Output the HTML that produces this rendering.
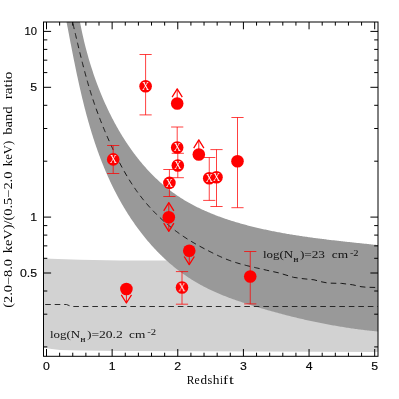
<!DOCTYPE html>
<html><head><meta charset="utf-8"><title>Band ratio vs redshift</title>
<style>
html,body{margin:0;padding:0;background:#fff;}
svg{display:block;will-change:transform;}
text{fill:#111;opacity:0.99;}
.s{font-family:"Liberation Sans",sans-serif;font-size:10.6px;fill:#000;stroke:#000;stroke-width:0.15px;}
.r{font-family:"Liberation Serif",serif;font-size:11.6px;fill:#000;}
.a{font-family:"Liberation Serif",serif;font-size:11.4px;}
.b{font-family:"Liberation Serif",serif;font-size:7.1px;font-weight:bold;}
.c{font-family:"Liberation Serif",serif;font-size:7.8px;}
.x{font-family:"Liberation Serif",serif;font-size:11.5px;fill:#fff;}
</style></head><body>
<svg width="399" height="399" viewBox="0 0 399 399">
<rect width="399" height="399" fill="#fff"/>
<clipPath id="c"><rect x="43.5" y="22.0" width="334.5" height="334.3"/></clipPath>
<g clip-path="url(#c)">
<path d="M43.50,258.60 L80.00,259.80 L120.00,260.60 L170.00,260.60 L378.00,260.60 L378.00,352.00 L200.00,351.20 L120.00,351.00 L80.00,350.60 L60.00,350.00 L50.00,348.80 L43.50,347.40Z" fill="#d2d2d2"/>
<path d="M78.67,14.63 L78.84,15.62 L79.01,16.60 L79.18,17.59 L79.35,18.58 L79.53,19.57 L79.71,20.56 L79.90,21.56 L80.08,22.55 L80.27,23.55 L80.47,24.55 L80.66,25.54 L80.86,26.54 L81.06,27.54 L81.27,28.55 L81.47,29.55 L81.68,30.55 L81.90,31.56 L82.11,32.56 L82.33,33.57 L82.55,34.57 L82.78,35.58 L83.01,36.59 L83.24,37.60 L83.47,38.61 L83.71,39.62 L83.95,40.63 L84.19,41.64 L84.44,42.66 L84.69,43.67 L84.94,44.68 L85.19,45.70 L85.45,46.71 L85.71,47.73 L85.98,48.74 L86.25,49.76 L86.52,50.77 L86.79,51.79 L87.07,52.81 L87.35,53.82 L87.63,54.84 L87.91,55.86 L88.20,56.87 L88.50,57.89 L88.79,58.91 L89.09,59.92 L89.39,60.94 L89.70,61.96 L90.00,62.97 L90.31,63.99 L90.63,65.01 L90.95,66.02 L91.27,67.04 L91.59,68.05 L91.92,69.07 L92.25,70.09 L92.58,71.10 L92.92,72.11 L93.26,73.13 L93.60,74.14 L93.94,75.15 L94.29,76.17 L94.65,77.18 L95.00,78.19 L95.36,79.20 L95.72,80.21 L96.09,81.22 L96.46,82.22 L96.83,83.23 L97.20,84.24 L97.58,85.24 L97.97,86.25 L98.35,87.25 L98.74,88.25 L99.13,89.26 L99.53,90.26 L99.92,91.26 L100.33,92.26 L100.73,93.25 L101.14,94.25 L101.55,95.24 L101.97,96.24 L102.38,97.23 L102.81,98.22 L103.23,99.21 L103.66,100.20 L104.09,101.19 L104.53,102.17 L104.97,103.16 L105.41,104.14 L105.85,105.12 L106.30,106.10 L106.75,107.08 L107.21,108.05 L107.67,109.03 L108.13,110.00 L108.60,110.97 L109.07,111.94 L109.54,112.91 L110.02,113.87 L110.50,114.84 L110.98,115.80 L111.47,116.76 L111.96,117.72 L112.45,118.67 L112.95,119.62 L113.45,120.58 L113.95,121.53 L114.46,122.47 L114.97,123.42 L115.49,124.36 L116.00,125.30 L116.53,126.24 L117.05,127.17 L117.58,128.11 L118.11,129.04 L118.65,129.97 L119.19,130.89 L119.73,131.82 L120.28,132.74 L120.83,133.66 L121.38,134.57 L121.94,135.49 L122.50,136.40 L123.07,137.31 L123.63,138.21 L124.21,139.11 L124.78,140.01 L125.36,140.91 L125.94,141.80 L126.53,142.69 L127.12,143.58 L127.71,144.47 L128.31,145.35 L128.91,146.23 L129.52,147.10 L130.13,147.98 L130.74,148.84 L131.35,149.71 L131.97,150.57 L132.60,151.43 L133.22,152.29 L133.85,153.14 L134.49,153.99 L135.13,154.84 L135.77,155.68 L136.41,156.52 L137.06,157.36 L137.72,158.19 L138.37,159.01 L139.04,159.84 L139.70,160.66 L140.37,161.48 L141.04,162.29 L141.72,163.10 L142.40,163.90 L143.08,164.70 L143.77,165.50 L144.46,166.29 L145.15,167.08 L145.85,167.87 L146.55,168.65 L147.26,169.43 L147.97,170.20 L148.68,170.97 L149.40,171.73 L150.12,172.49 L150.85,173.24 L151.58,173.99 L152.31,174.74 L153.05,175.48 L153.79,176.22 L154.54,176.95 L155.29,177.68 L156.04,178.40 L156.80,179.12 L157.56,179.83 L158.32,180.54 L159.09,181.24 L159.86,181.94 L160.64,182.63 L161.42,183.32 L162.20,184.00 L162.99,184.68 L163.79,185.36 L164.58,186.02 L165.38,186.69 L166.19,187.34 L167.00,188.00 L167.81,188.64 L168.62,189.28 L169.44,189.92 L170.27,190.55 L171.10,191.17 L171.93,191.79 L172.77,192.41 L173.61,193.02 L174.45,193.62 L175.30,194.22 L176.15,194.81 L177.01,195.39 L177.87,195.97 L178.74,196.55 L179.60,197.12 L180.48,197.68 L181.35,198.24 L182.23,198.79 L183.12,199.34 L184.00,199.88 L184.89,200.41 L185.79,200.95 L186.69,201.47 L187.59,201.99 L188.49,202.51 L189.40,203.02 L190.31,203.52 L191.23,204.02 L192.15,204.52 L193.07,205.01 L193.99,205.49 L194.92,205.97 L195.85,206.45 L196.78,206.92 L197.72,207.39 L198.66,207.85 L199.60,208.30 L200.55,208.76 L201.50,209.20 L202.45,209.65 L203.41,210.08 L204.36,210.52 L205.32,210.95 L206.29,211.37 L207.25,211.79 L208.22,212.21 L209.19,212.62 L210.16,213.02 L211.14,213.43 L212.12,213.83 L213.10,214.22 L214.08,214.61 L215.06,215.00 L216.05,215.38 L217.04,215.76 L218.03,216.13 L219.03,216.50 L220.02,216.86 L221.02,217.23 L222.02,217.58 L223.02,217.94 L224.03,218.29 L225.03,218.64 L226.04,218.98 L227.05,219.32 L228.06,219.65 L229.08,219.99 L230.09,220.31 L231.11,220.64 L232.13,220.96 L233.15,221.28 L234.17,221.59 L235.19,221.90 L236.21,222.21 L237.24,222.52 L238.27,222.82 L239.30,223.11 L240.33,223.41 L241.36,223.70 L242.39,223.99 L243.42,224.27 L244.46,224.56 L245.49,224.84 L246.53,225.11 L247.57,225.39 L248.61,225.66 L249.65,225.92 L250.69,226.19 L251.73,226.45 L252.77,226.71 L253.81,226.96 L254.86,227.22 L255.90,227.47 L256.95,227.72 L257.99,227.96 L259.04,228.21 L260.09,228.45 L261.13,228.68 L262.18,228.92 L263.23,229.15 L264.28,229.38 L265.33,229.61 L266.38,229.84 L267.43,230.06 L268.49,230.28 L269.54,230.50 L270.59,230.72 L271.64,230.93 L272.70,231.14 L273.75,231.35 L274.81,231.56 L275.86,231.76 L276.92,231.97 L277.97,232.17 L279.03,232.36 L280.08,232.56 L281.14,232.76 L282.20,232.95 L283.25,233.14 L284.31,233.33 L285.37,233.51 L286.43,233.70 L287.49,233.88 L288.54,234.06 L289.60,234.24 L290.66,234.42 L291.72,234.59 L292.78,234.76 L293.84,234.94 L294.90,235.11 L295.96,235.27 L297.02,235.44 L298.08,235.60 L299.13,235.77 L300.19,235.93 L301.25,236.09 L302.31,236.25 L303.37,236.40 L304.43,236.56 L305.49,236.71 L306.55,236.86 L307.61,237.01 L308.67,237.16 L309.73,237.31 L310.79,237.46 L311.84,237.60 L312.90,237.75 L313.96,237.89 L315.02,238.03 L316.08,238.17 L317.14,238.31 L318.19,238.44 L319.25,238.58 L320.31,238.71 L321.36,238.85 L322.42,238.98 L323.47,239.11 L324.53,239.24 L325.59,239.37 L326.64,239.50 L327.69,239.63 L328.75,239.76 L329.80,239.88 L330.85,240.01 L331.91,240.13 L332.96,240.25 L334.01,240.37 L335.06,240.50 L336.11,240.62 L337.16,240.74 L338.21,240.85 L339.26,240.97 L340.31,241.09 L341.36,241.21 L342.40,241.32 L343.45,241.44 L344.50,241.55 L345.54,241.67 L346.59,241.78 L347.63,241.90 L348.67,242.01 L349.71,242.12 L350.76,242.23 L351.80,242.34 L352.84,242.45 L353.87,242.56 L354.91,242.68 L355.95,242.79 L356.99,242.89 L358.02,243.00 L359.06,243.11 L360.09,243.22 L361.12,243.33 L362.16,243.44 L363.19,243.55 L364.22,243.66 L365.25,243.76 L366.27,243.87 L367.30,243.98 L368.33,244.09 L369.35,244.20 L370.38,244.30 L371.40,244.41 L372.42,244.52 L373.44,244.63 L374.46,244.74 L375.48,244.84 L376.50,244.95 L377.51,245.06 L378.53,245.17 L379.54,245.28 L379.57,331.59 L378.38,331.49 L377.18,331.38 L375.99,331.27 L374.79,331.16 L373.59,331.04 L372.39,330.92 L371.18,330.80 L369.98,330.67 L368.77,330.54 L367.57,330.40 L366.36,330.27 L365.15,330.13 L363.93,329.98 L362.72,329.84 L361.51,329.69 L360.29,329.54 L359.07,329.38 L357.85,329.22 L356.63,329.06 L355.41,328.89 L354.19,328.72 L352.97,328.55 L351.74,328.38 L350.52,328.20 L349.29,328.02 L348.06,327.84 L346.84,327.65 L345.61,327.46 L344.38,327.27 L343.15,327.07 L341.91,326.87 L340.68,326.67 L339.45,326.47 L338.21,326.26 L336.98,326.05 L335.74,325.84 L334.51,325.62 L333.27,325.40 L332.03,325.18 L330.80,324.96 L329.56,324.73 L328.32,324.50 L327.08,324.27 L325.84,324.03 L324.60,323.80 L323.36,323.56 L322.12,323.31 L320.88,323.07 L319.64,322.82 L318.40,322.57 L317.16,322.31 L315.91,322.05 L314.67,321.80 L313.43,321.53 L312.19,321.27 L310.95,321.00 L309.71,320.73 L308.46,320.46 L307.22,320.19 L305.98,319.91 L304.74,319.63 L303.50,319.35 L302.26,319.06 L301.02,318.77 L299.78,318.48 L298.54,318.19 L297.30,317.90 L296.06,317.60 L294.82,317.30 L293.58,317.00 L292.35,316.70 L291.11,316.39 L289.87,316.08 L288.64,315.77 L287.40,315.46 L286.17,315.14 L284.93,314.83 L283.70,314.51 L282.47,314.18 L281.24,313.86 L280.01,313.53 L278.78,313.20 L277.55,312.87 L276.32,312.54 L275.09,312.20 L273.87,311.87 L272.64,311.53 L271.42,311.19 L270.20,310.84 L268.97,310.50 L267.75,310.15 L266.54,309.80 L265.32,309.45 L264.10,309.09 L262.89,308.74 L261.67,308.38 L260.46,308.02 L259.25,307.66 L258.04,307.30 L256.83,306.93 L255.62,306.56 L254.42,306.19 L253.21,305.82 L252.01,305.45 L250.81,305.07 L249.61,304.70 L248.42,304.32 L247.22,303.94 L246.03,303.56 L244.83,303.17 L243.64,302.78 L242.46,302.39 L241.27,302.00 L240.09,301.60 L238.91,301.21 L237.73,300.80 L236.55,300.40 L235.37,299.99 L234.20,299.58 L233.03,299.16 L231.86,298.74 L230.70,298.31 L229.53,297.88 L228.37,297.45 L227.21,297.01 L226.06,296.57 L224.91,296.12 L223.76,295.66 L222.61,295.20 L221.47,294.74 L220.32,294.27 L219.19,293.79 L218.05,293.31 L216.92,292.82 L215.79,292.32 L214.66,291.82 L213.54,291.31 L212.42,290.79 L211.30,290.27 L210.19,289.74 L209.08,289.20 L207.97,288.66 L206.87,288.11 L205.77,287.55 L204.68,286.98 L203.58,286.41 L202.50,285.83 L201.41,285.24 L200.33,284.64 L199.25,284.04 L198.18,283.43 L197.11,282.82 L196.04,282.19 L194.98,281.56 L193.93,280.92 L192.87,280.28 L191.82,279.63 L190.78,278.97 L189.74,278.30 L188.70,277.63 L187.67,276.95 L186.64,276.26 L185.62,275.56 L184.60,274.86 L183.59,274.15 L182.58,273.43 L181.58,272.71 L180.58,271.98 L179.58,271.24 L178.59,270.49 L177.61,269.74 L176.63,268.97 L175.65,268.21 L174.68,267.43 L173.72,266.65 L172.76,265.86 L171.80,265.06 L170.85,264.26 L169.91,263.45 L168.97,262.63 L168.03,261.81 L167.10,260.97 L166.18,260.14 L165.26,259.29 L164.34,258.44 L163.43,257.59 L162.53,256.72 L161.63,255.85 L160.73,254.98 L159.84,254.10 L158.96,253.21 L158.08,252.32 L157.20,251.42 L156.33,250.51 L155.47,249.60 L154.61,248.68 L153.75,247.76 L152.90,246.83 L152.06,245.90 L151.22,244.96 L150.39,244.02 L149.56,243.07 L148.73,242.12 L147.91,241.16 L147.10,240.20 L146.29,239.23 L145.49,238.25 L144.69,237.27 L143.90,236.29 L143.11,235.30 L142.32,234.31 L141.55,233.32 L140.77,232.31 L140.01,231.31 L139.24,230.30 L138.49,229.29 L137.73,228.27 L136.99,227.25 L136.24,226.22 L135.51,225.19 L134.77,224.16 L134.05,223.12 L133.33,222.08 L132.61,221.04 L131.90,219.99 L131.19,218.94 L130.49,217.88 L129.80,216.83 L129.11,215.77 L128.42,214.70 L127.74,213.63 L127.07,212.56 L126.40,211.49 L125.73,210.41 L125.07,209.34 L124.42,208.25 L123.77,207.17 L123.13,206.08 L122.49,204.99 L121.86,203.90 L121.23,202.81 L120.61,201.71 L119.99,200.62 L119.38,199.51 L118.77,198.41 L118.17,197.31 L117.57,196.20 L116.98,195.09 L116.39,193.98 L115.81,192.87 L115.24,191.76 L114.67,190.64 L114.10,189.52 L113.54,188.40 L112.98,187.28 L112.43,186.15 L111.88,185.03 L111.34,183.90 L110.80,182.77 L110.27,181.64 L109.74,180.51 L109.22,179.37 L108.70,178.24 L108.18,177.10 L107.67,175.96 L107.17,174.82 L106.67,173.67 L106.17,172.53 L105.68,171.38 L105.19,170.23 L104.71,169.08 L104.23,167.93 L103.75,166.78 L103.28,165.62 L102.81,164.46 L102.35,163.31 L101.89,162.15 L101.44,160.99 L100.99,159.82 L100.54,158.66 L100.10,157.49 L99.66,156.33 L99.22,155.16 L98.79,153.99 L98.36,152.82 L97.94,151.64 L97.52,150.47 L97.10,149.29 L96.69,148.12 L96.28,146.94 L95.87,145.76 L95.47,144.58 L95.07,143.39 L94.68,142.21 L94.29,141.03 L93.90,139.84 L93.51,138.65 L93.13,137.47 L92.75,136.28 L92.38,135.08 L92.00,133.89 L91.63,132.70 L91.27,131.51 L90.90,130.31 L90.54,129.11 L90.19,127.92 L89.83,126.72 L89.48,125.52 L89.13,124.32 L88.79,123.12 L88.45,121.91 L88.11,120.71 L87.77,119.51 L87.43,118.30 L87.10,117.09 L86.77,115.89 L86.45,114.68 L86.12,113.47 L85.80,112.26 L85.48,111.05 L85.17,109.84 L84.85,108.63 L84.54,107.41 L84.23,106.20 L83.92,104.98 L83.62,103.77 L83.32,102.55 L83.02,101.34 L82.72,100.12 L82.42,98.90 L82.13,97.68 L81.84,96.46 L81.55,95.24 L81.26,94.02 L80.97,92.80 L80.69,91.58 L80.41,90.35 L80.13,89.13 L79.85,87.91 L79.57,86.68 L79.30,85.46 L79.02,84.23 L78.75,83.01 L78.48,81.78 L78.21,80.55 L77.94,79.33 L77.68,78.10 L77.41,76.87 L77.15,75.64 L76.89,74.41 L76.63,73.18 L76.37,71.96 L76.11,70.73 L75.86,69.50 L75.60,68.27 L75.35,67.03 L75.10,65.80 L74.84,64.57 L74.59,63.34 L74.34,62.11 L74.10,60.88 L73.85,59.65 L73.60,58.42 L73.36,57.18 L73.11,55.95 L72.87,54.72 L72.62,53.49 L72.38,52.25 L72.14,51.02 L71.90,49.79 L71.66,48.56 L71.42,47.32 L71.18,46.09 L70.94,44.86 L70.70,43.63 L70.46,42.39 L70.22,41.16 L69.99,39.93 L69.75,38.70 L69.51,37.46 L69.28,36.23 L69.04,35.00 L68.81,33.77 L68.57,32.54 L68.33,31.31 L68.10,30.07 L67.86,28.84 L67.63,27.61 L67.39,26.38 L67.15,25.15 L66.92,23.92 L66.68,22.69 L66.45,21.46 L66.21,20.24 L65.97,19.01 L65.74,17.78 L65.50,16.55 L65.26,15.32 L65.02,14.10Z" fill="#999999"/>
<path d="M43.50,304.50 L66.50,304.50 L71.50,306.50 L378.00,306.50" fill="none" stroke="#1a1a1a" stroke-width="0.9" stroke-dashoffset="7.8" stroke-dasharray="5.6 3.9"/>
<path d="M70.62,14.12 L70.90,15.26 L71.17,16.39 L71.45,17.53 L71.72,18.66 L72.00,19.79 L72.27,20.93 L72.54,22.06 L72.82,23.19 L73.09,24.32 L73.36,25.45 L73.63,26.59 L73.90,27.72 L74.17,28.85 L74.44,29.98 L74.70,31.11 L74.97,32.24 L75.24,33.37 L75.51,34.49 L75.78,35.62 L76.04,36.75 L76.31,37.88 L76.58,39.00 L76.85,40.13 L77.12,41.26 L77.39,42.38 L77.65,43.51 L77.92,44.63 L78.19,45.76 L78.46,46.88 L78.73,48.01 L79.01,49.13 L79.28,50.25 L79.55,51.37 L79.83,52.49 L80.10,53.61 L80.38,54.74 L80.65,55.86 L80.93,56.97 L81.21,58.09 L81.49,59.21 L81.77,60.33 L82.05,61.45 L82.33,62.56 L82.62,63.68 L82.90,64.79 L83.19,65.91 L83.48,67.02 L83.77,68.14 L84.07,69.25 L84.36,70.36 L84.66,71.47 L84.95,72.59 L85.25,73.70 L85.55,74.81 L85.86,75.91 L86.16,77.02 L86.47,78.13 L86.78,79.24 L87.09,80.34 L87.41,81.45 L87.72,82.56 L88.04,83.66 L88.37,84.76 L88.69,85.87 L89.02,86.97 L89.35,88.07 L89.68,89.17 L90.01,90.27 L90.35,91.37 L90.69,92.47 L91.03,93.57 L91.38,94.66 L91.73,95.76 L92.08,96.85 L92.44,97.95 L92.80,99.04 L93.16,100.14 L93.52,101.23 L93.89,102.32 L94.26,103.41 L94.64,104.50 L95.02,105.59 L95.40,106.68 L95.78,107.76 L96.17,108.85 L96.56,109.93 L96.96,111.02 L97.35,112.10 L97.75,113.19 L98.16,114.27 L98.56,115.35 L98.97,116.43 L99.39,117.51 L99.80,118.58 L100.22,119.66 L100.64,120.74 L101.06,121.81 L101.49,122.89 L101.92,123.96 L102.35,125.03 L102.79,126.10 L103.22,127.17 L103.66,128.24 L104.11,129.31 L104.55,130.38 L105.00,131.45 L105.45,132.51 L105.90,133.57 L106.36,134.64 L106.82,135.70 L107.28,136.76 L107.74,137.82 L108.21,138.88 L108.68,139.94 L109.15,140.99 L109.62,142.05 L110.10,143.10 L110.58,144.16 L111.06,145.21 L111.54,146.26 L112.03,147.31 L112.52,148.36 L113.01,149.41 L113.50,150.45 L114.00,151.50 L114.49,152.54 L115.00,153.58 L115.50,154.62 L116.01,155.66 L116.52,156.70 L117.03,157.73 L117.55,158.77 L118.07,159.80 L118.59,160.83 L119.12,161.86 L119.65,162.88 L120.18,163.90 L120.72,164.92 L121.27,165.94 L121.81,166.96 L122.36,167.97 L122.92,168.99 L123.47,169.99 L124.04,171.00 L124.60,172.00 L125.18,173.01 L125.75,174.00 L126.33,175.00 L126.92,175.99 L127.51,176.98 L128.10,177.97 L128.70,178.95 L129.31,179.93 L129.92,180.91 L130.53,181.88 L131.15,182.85 L131.78,183.82 L132.41,184.78 L133.05,185.74 L133.69,186.70 L134.34,187.65 L134.99,188.60 L135.65,189.55 L136.32,190.49 L136.99,191.43 L137.67,192.36 L138.35,193.29 L139.04,194.22 L139.73,195.14 L140.44,196.06 L141.14,196.97 L141.86,197.88 L142.58,198.79 L143.30,199.69 L144.04,200.58 L144.77,201.48 L145.52,202.36 L146.26,203.25 L147.02,204.13 L147.78,205.00 L148.54,205.87 L149.31,206.73 L150.09,207.59 L150.87,208.45 L151.66,209.30 L152.45,210.14 L153.25,210.98 L154.05,211.82 L154.86,212.65 L155.68,213.47 L156.49,214.29 L157.32,215.11 L158.15,215.92 L158.98,216.72 L159.82,217.52 L160.66,218.31 L161.51,219.10 L162.36,219.89 L163.22,220.66 L164.08,221.43 L164.95,222.20 L165.82,222.96 L166.70,223.72 L167.58,224.47 L168.47,225.21 L169.36,225.95 L170.25,226.68 L171.15,227.40 L172.05,228.12 L172.96,228.84 L173.87,229.54 L174.79,230.25 L175.71,230.94 L176.63,231.63 L177.56,232.31 L178.49,232.99 L179.43,233.66 L180.37,234.32 L181.31,234.98 L182.26,235.63 L183.21,236.27 L184.17,236.91 L185.13,237.54 L186.09,238.17 L187.05,238.79 L188.02,239.40 L189.00,240.00 L189.97,240.61 L190.95,241.20 L191.94,241.79 L192.93,242.38 L193.92,242.96 L194.91,243.53 L195.91,244.10 L196.91,244.67 L197.91,245.23 L198.92,245.79 L199.93,246.34 L200.94,246.89 L201.95,247.44 L202.97,247.98 L203.99,248.52 L205.02,249.06 L206.04,249.60 L207.07,250.13 L208.11,250.66 L209.14,251.19 L210.18,251.71 L211.22,252.24 L212.26,252.76 L213.31,253.28 L214.35,253.80 L215.40,254.31 L216.46,254.82 L217.51,255.33 L218.57,255.83 L219.63,256.32 L220.69,256.80 L221.75,257.28 L222.82,257.74 L223.88,258.20 L224.95,258.65 L226.03,259.08 L227.10,259.50 L228.17,259.92 L229.25,260.32 L230.33,260.71 L231.41,261.09 L232.49,261.46 L233.58,261.82 L234.66,262.17 L235.75,262.52 L236.84,262.85 L237.93,263.18 L239.03,263.50 L240.12,263.82 L241.22,264.13 L242.31,264.43 L243.41,264.72 L244.51,265.01 L245.61,265.30 L246.72,265.58 L247.82,265.85 L248.93,266.12 L250.03,266.39 L251.14,266.66 L252.25,266.92 L253.36,267.17 L254.48,267.43 L255.59,267.69 L256.70,267.94 L257.82,268.19 L258.94,268.44 L260.06,268.69 L261.17,268.94 L262.29,269.19 L263.42,269.45 L266.50,270.20 L278.90,272.90 L293.40,277.30 L303.00,278.70 L314.00,279.80 L321.00,281.70 L328.00,283.10 L341.70,283.40 L352.70,284.80 L361.00,286.70 L366.50,287.25 L377.50,287.50 L379.00,287.60" fill="none" stroke="#111" stroke-width="0.95" stroke-dasharray="5.6 4.2"/>
</g>
<path d="M46.50,356.3v-7.3M46.50,22.0v7.3M59.63,356.3v-3.6M59.63,22.0v3.6M72.76,356.3v-3.6M72.76,22.0v3.6M85.88,356.3v-3.6M85.88,22.0v3.6M99.01,356.3v-3.6M99.01,22.0v3.6M112.14,356.3v-7.3M112.14,22.0v7.3M125.27,356.3v-3.6M125.27,22.0v3.6M138.40,356.3v-3.6M138.40,22.0v3.6M151.52,356.3v-3.6M151.52,22.0v3.6M164.65,356.3v-3.6M164.65,22.0v3.6M177.78,356.3v-7.3M177.78,22.0v7.3M190.91,356.3v-3.6M190.91,22.0v3.6M204.04,356.3v-3.6M204.04,22.0v3.6M217.16,356.3v-3.6M217.16,22.0v3.6M230.29,356.3v-3.6M230.29,22.0v3.6M243.42,356.3v-7.3M243.42,22.0v7.3M256.55,356.3v-3.6M256.55,22.0v3.6M269.68,356.3v-3.6M269.68,22.0v3.6M282.80,356.3v-3.6M282.80,22.0v3.6M295.93,356.3v-3.6M295.93,22.0v3.6M309.06,356.3v-7.3M309.06,22.0v7.3M322.19,356.3v-3.6M322.19,22.0v3.6M335.32,356.3v-3.6M335.32,22.0v3.6M348.44,356.3v-3.6M348.44,22.0v3.6M361.57,356.3v-3.6M361.57,22.0v3.6M374.70,356.3v-7.3M374.70,22.0v7.3M43.5,346.90h3.8M378.0,346.90h-3.8M43.5,314.20h3.8M378.0,314.20h-3.8M43.5,291.00h3.8M378.0,291.00h-3.8M43.5,273.00h7.6M378.0,273.00h-7.6M43.5,258.30h3.8M378.0,258.30h-3.8M43.5,245.87h3.8M378.0,245.87h-3.8M43.5,235.10h3.8M378.0,235.10h-3.8M43.5,225.60h3.8M378.0,225.60h-3.8M43.5,217.10h7.6M378.0,217.10h-7.6M43.5,161.20h3.8M378.0,161.20h-3.8M43.5,128.50h3.8M378.0,128.50h-3.8M43.5,105.30h3.8M378.0,105.30h-3.8M43.5,87.30h7.6M378.0,87.30h-7.6M43.5,72.60h3.8M378.0,72.60h-3.8M43.5,60.17h3.8M378.0,60.17h-3.8M43.5,49.40h3.8M378.0,49.40h-3.8M43.5,39.90h3.8M378.0,39.90h-3.8M43.5,31.40h7.6M378.0,31.40h-7.6" stroke="#000" stroke-width="1" fill="none"/>
<rect x="43.5" y="22.0" width="334.5" height="334.3" fill="none" stroke="#000" stroke-width="1"/>
<g opacity="0.999">
<text transform="translate(46.50,370) scale(1.16,1)" text-anchor="middle" class="s">0</text>
<text transform="translate(112.14,370) scale(1.16,1)" text-anchor="middle" class="s">1</text>
<text transform="translate(177.78,370) scale(1.16,1)" text-anchor="middle" class="s">2</text>
<text transform="translate(243.42,370) scale(1.16,1)" text-anchor="middle" class="s">3</text>
<text transform="translate(309.06,370) scale(1.16,1)" text-anchor="middle" class="s">4</text>
<text transform="translate(374.70,370) scale(1.16,1)" text-anchor="middle" class="s">5</text>
<text transform="translate(37,35.30) scale(1.06,1.07)" text-anchor="end" class="s">10</text>
<text transform="translate(37,91.20) scale(1.16,1)" text-anchor="end" class="s">5</text>
<text transform="translate(37,221.00) scale(1.16,1)" text-anchor="end" class="s">1</text>
<text transform="translate(37,276.90) scale(1.16,1)" text-anchor="end" class="s">0.5</text>
<text x="186.7" y="383.9" class="r" textLength="7.6" lengthAdjust="spacingAndGlyphs">R</text>
<text x="194.5" y="383.9" class="r" textLength="5.2" lengthAdjust="spacingAndGlyphs">e</text>
<text x="200.4" y="383.9" class="r" textLength="6.6" lengthAdjust="spacingAndGlyphs">d</text>
<text x="207.6" y="383.9" class="r" textLength="4.8" lengthAdjust="spacingAndGlyphs">s</text>
<text x="212.7" y="383.9" class="r" textLength="6.7" lengthAdjust="spacingAndGlyphs">h</text>
<text x="220.0" y="383.9" class="r" textLength="2.9" lengthAdjust="spacingAndGlyphs">i</text>
<text x="223.0" y="383.9" class="r" textLength="5.2" lengthAdjust="spacingAndGlyphs">f</text>
<text x="229.1" y="383.9" class="r" textLength="4.8" lengthAdjust="spacingAndGlyphs">t</text>
<text transform="translate(11.8,307.8) rotate(-90)" class="r" textLength="48.7" lengthAdjust="spacingAndGlyphs">(2.0−8.0</text>
<text transform="translate(11.8,253.2) rotate(-90)" class="r" textLength="81.6" lengthAdjust="spacingAndGlyphs">keV)/(0.5−2.0</text>
<text transform="translate(11.8,166.2) rotate(-90)" class="r" textLength="25.4" lengthAdjust="spacingAndGlyphs">keV)</text>
<text transform="translate(11.8,134.8) rotate(-90)" class="r" textLength="28.5" lengthAdjust="spacingAndGlyphs">band</text>
<text transform="translate(11.8,99.3) rotate(-90)" class="r" textLength="27.7" lengthAdjust="spacingAndGlyphs">ratio</text>
<text x="50.00" y="338.20" class="a" textLength="30.20" lengthAdjust="spacingAndGlyphs">log(N</text>
<text x="80.60" y="341.80" class="b" textLength="4.90" lengthAdjust="spacingAndGlyphs">H</text>
<text x="86.90" y="338.20" class="a" textLength="35.90" lengthAdjust="spacingAndGlyphs">)=20.2</text>
<text x="129.00" y="338.20" class="a" textLength="16.30" lengthAdjust="spacingAndGlyphs">cm</text>
<text x="147.20" y="334.80" class="c" textLength="8.90" lengthAdjust="spacingAndGlyphs">-2</text>
<text x="263.00" y="258.20" class="a" textLength="30.20" lengthAdjust="spacingAndGlyphs">log(N</text>
<text x="293.60" y="261.80" class="b" textLength="4.90" lengthAdjust="spacingAndGlyphs">H</text>
<text x="299.90" y="258.20" class="a" textLength="25.10" lengthAdjust="spacingAndGlyphs">)=23</text>
<text x="331.80" y="258.20" class="a" textLength="16.30" lengthAdjust="spacingAndGlyphs">cm</text>
<text x="349.90" y="255.70" class="c" textLength="8.70" lengthAdjust="spacingAndGlyphs">-2</text>
</g>
<path d="M145.6,85.9V54.5M139.5,54.5h12.2M145.6,85.9V114.9M139.5,114.9h12.2M113.2,159.1V145.5M107.10000000000001,145.5h12.2M113.2,159.1V173.5M107.10000000000001,173.5h12.2M177.2,147.2V127.0M171.1,127.0h12.2M177.8,165.2V153.3M171.70000000000002,153.3h12.2M177.8,165.2V177.7M171.70000000000002,177.7h12.2M169.4,182.6V169.5M163.3,169.5h12.2M169.4,182.6V196.5M163.3,196.5h12.2M209.25,178.0V157.5M203.15,157.5h12.2M209.25,178.0V200.4M203.15,200.4h12.2M216.5,177.0V149.6M210.4,149.6h12.2M216.5,177.0V206.5M210.4,206.5h12.2M237.5,161.0V117.5M231.4,117.5h12.2M237.5,161.0V207.7M231.4,207.7h12.2M182,287.2V271.6M175.9,271.6h12.2M182,287.2V304.2M175.9,304.2h12.2M250.25,276.2V251.5M244.15,251.5h12.2M250.25,276.2V303.9M244.15,303.9h12.2" stroke="#ff0000" stroke-width="0.75" fill="none"/>
<path d="M177.2,103.2V88.9M198.8,154.2V139.89999999999998M168.8,217.0V202.7M168.8,217.0V231.3M189.25,250.4V264.7M126.4,288.7V303.0" stroke="#ff0000" stroke-width="0.9" fill="none"/>
<path d="M172.1,97.10000000000001L177.2,88.9L182.29999999999998,97.10000000000001M193.70000000000002,148.09999999999997L198.8,139.89999999999998L203.9,148.09999999999997M163.70000000000002,210.89999999999998L168.8,202.7L173.9,210.89999999999998M163.70000000000002,223.10000000000002L168.8,231.3L173.9,223.10000000000002M184.15,256.5L189.25,264.7L194.35,256.5M121.30000000000001,294.8L126.4,303.0L131.5,294.8" stroke="#ff0000" stroke-width="1.25" fill="none" stroke-linejoin="round"/>
<g fill="#ff0000"><circle cx="145.6" cy="86.20" r="6.3"/><circle cx="177.2" cy="103.50" r="6.3"/><circle cx="113.2" cy="159.40" r="6.3"/><circle cx="177.2" cy="147.50" r="6.3"/><circle cx="177.8" cy="165.50" r="6.3"/><circle cx="169.4" cy="182.90" r="6.3"/><circle cx="198.8" cy="154.50" r="6.3"/><circle cx="209.25" cy="178.30" r="6.3"/><circle cx="216.5" cy="177.30" r="6.3"/><circle cx="237.5" cy="161.30" r="6.3"/><circle cx="168.8" cy="217.30" r="6.3"/><circle cx="189.25" cy="250.70" r="6.3"/><circle cx="182" cy="287.50" r="6.3"/><circle cx="126.4" cy="289.00" r="6.3"/><circle cx="250.25" cy="276.50" r="6.3"/></g>
<g opacity="0.999"><text transform="translate(145.6,90.00) scale(0.86,1)" text-anchor="middle" class="x">X</text><text transform="translate(113.2,163.20) scale(0.86,1)" text-anchor="middle" class="x">X</text><text transform="translate(177.2,151.30) scale(0.86,1)" text-anchor="middle" class="x">X</text><text transform="translate(177.8,169.30) scale(0.86,1)" text-anchor="middle" class="x">X</text><text transform="translate(169.4,186.70) scale(0.86,1)" text-anchor="middle" class="x">X</text><text transform="translate(209.25,182.10) scale(0.86,1)" text-anchor="middle" class="x">X</text><text transform="translate(216.5,181.10) scale(0.86,1)" text-anchor="middle" class="x">X</text><text transform="translate(182,291.30) scale(0.86,1)" text-anchor="middle" class="x">X</text></g>
</svg>
</body></html>
